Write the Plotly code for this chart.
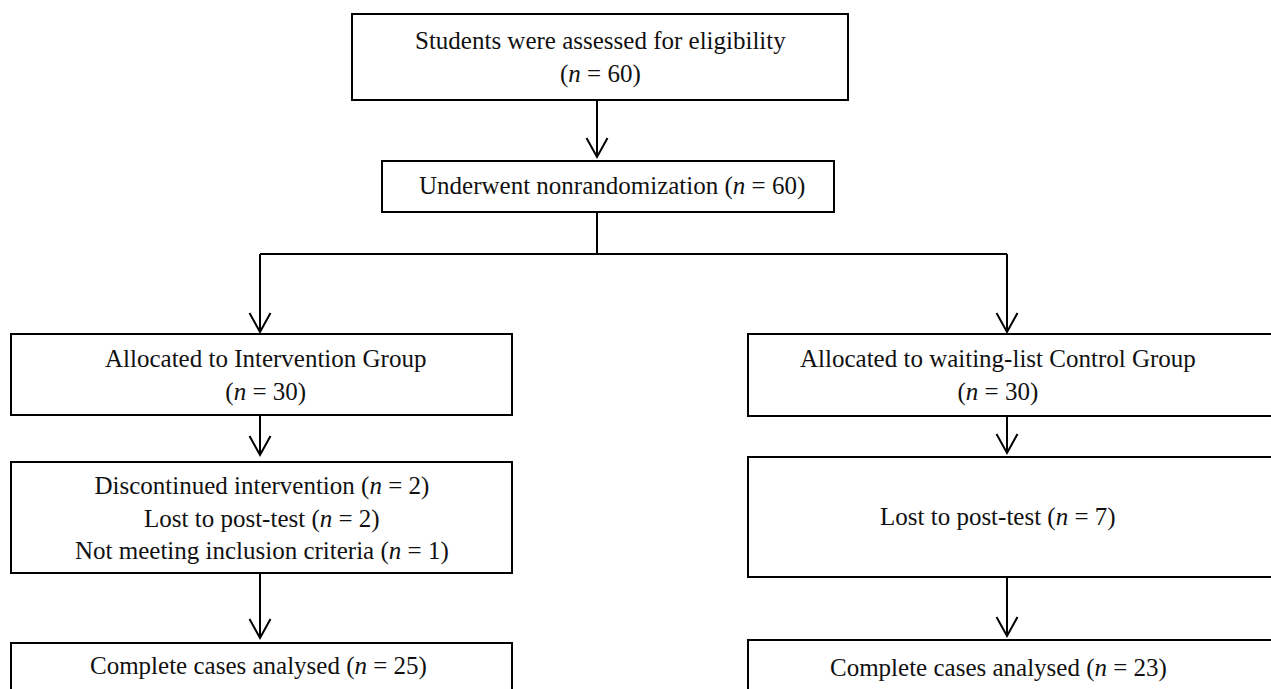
import plotly.graph_objects as go

# ---------------- data (text content of the flow diagram) ----------------
screening_label = "Students were assessed for eligibility"
screening_n = 60
assignment_label = "Underwent nonrandomization"
assignment_n = 60
group_labels = ["Allocated to Intervention Group", "Allocated to waiting-list Control Group"]
group_n = [30, 30]
attrition_reasons = [["Discontinued intervention", "Lost to post-test", "Not meeting inclusion criteria"],
                     ["Lost to post-test"]]
attrition_n = [[2, 2, 1], [7]]
analysed_label = "Complete cases analysed"
analysed_n = [25, 23]

# ---------------- layout geometry (pixel-like units) ----------------
W, H = 1271, 689
FONT = dict(family="Liberation Serif, Times New Roman, serif", size=25, color="#111111")
LW = 2


def nfmt(v):
    return "(<i>n</i> = %d)" % v


# boxes: (x0, x1, y0, y1, text-center-x, text-center-y)
boxes = {
    "screen": (352, 848, 14, 100, 600, 57),
    "assign": (382, 834, 161, 212, 612, 186),
    "g0": (11, 512, 334, 415, 265, 375),
    "g1": (748, 1290, 334, 416, 998, 375),
    "a0": (11, 512, 462, 573, 262, 518),
    "a1": (748, 1290, 457, 577, 998, 517),
    "c0": (11, 512, 643, 720, 258, 666),
    "c1": (748, 1290, 640, 720, 998, 668),
}

texts = {
    "screen": screening_label + "<br>" + nfmt(screening_n),
    "assign": assignment_label + " " + nfmt(assignment_n),
    "g0": group_labels[0] + "<br>" + nfmt(group_n[0]),
    "g1": group_labels[1] + "<br>" + nfmt(group_n[1]),
    "a0": "<br>".join(r + " " + nfmt(v) for r, v in zip(attrition_reasons[0], attrition_n[0])),
    "a1": "<br>".join(r + " " + nfmt(v) for r, v in zip(attrition_reasons[1], attrition_n[1])),
    "c0": analysed_label + " " + nfmt(analysed_n[0]),
    "c1": analysed_label + " " + nfmt(analysed_n[1]),
}

# arrows: (x, y_start, y_tip)
arrows = [
    (597, 100, 157),
    (260, 254, 332),
    (1007, 254, 332),
    (260, 415, 455),
    (1007, 416, 453),
    (260, 573, 638),
    (1007, 577, 636),
]
# plain connectors: (x0, y0, x1, y1)
connectors = [
    (597, 212, 597, 254),
    (260, 254, 1007, 254),
]

fig = go.Figure()
fig.add_trace(go.Scatter(x=[0, W], y=[0, H], mode="markers", marker=dict(opacity=0),
                         hoverinfo="skip", showlegend=False))

shapes = []
for key, (x0, x1, y0, y1, tx, ty) in boxes.items():
    shapes.append(dict(type="rect", xref="x", yref="y", x0=x0, x1=x1, y0=y0, y1=y1,
                       line=dict(color="black", width=LW), fillcolor="rgba(0,0,0,0)"))
for (x0, y0, x1, y1) in connectors:
    shapes.append(dict(type="line", xref="x", yref="y", x0=x0, y0=y0, x1=x1, y1=y1,
                       line=dict(color="black", width=LW)))
for (x, ys, yt) in arrows:
    shapes.append(dict(type="line", xref="x", yref="y", x0=x, y0=ys, x1=x, y1=yt,
                       line=dict(color="black", width=LW)))
    shapes.append(dict(type="path", xref="x", yref="y",
                       path="M %g,%g L %g,%g L %g,%g" % (x - 10.5, yt - 19, x, yt, x + 10.5, yt - 19),
                       line=dict(color="black", width=LW)))

annotations = []
for key, (x0, x1, y0, y1, tx, ty) in boxes.items():
    annotations.append(dict(x=tx, y=ty, xref="x", yref="y", text=texts[key], showarrow=False,
                            xanchor="center", yanchor="middle", align="center", font=FONT))

fig.update_layout(
    width=W, height=H, margin=dict(l=0, r=0, t=0, b=0),
    paper_bgcolor="white", plot_bgcolor="white",
    shapes=shapes, annotations=annotations, showlegend=False,
    xaxis=dict(range=[0, W], visible=False, fixedrange=True),
    yaxis=dict(range=[H, 0], visible=False, fixedrange=True),
)

fig.write_html("out.html", config={"displayModeBar": False},
               post_script="document.body.style.margin='0';document.body.style.overflow='hidden';")
